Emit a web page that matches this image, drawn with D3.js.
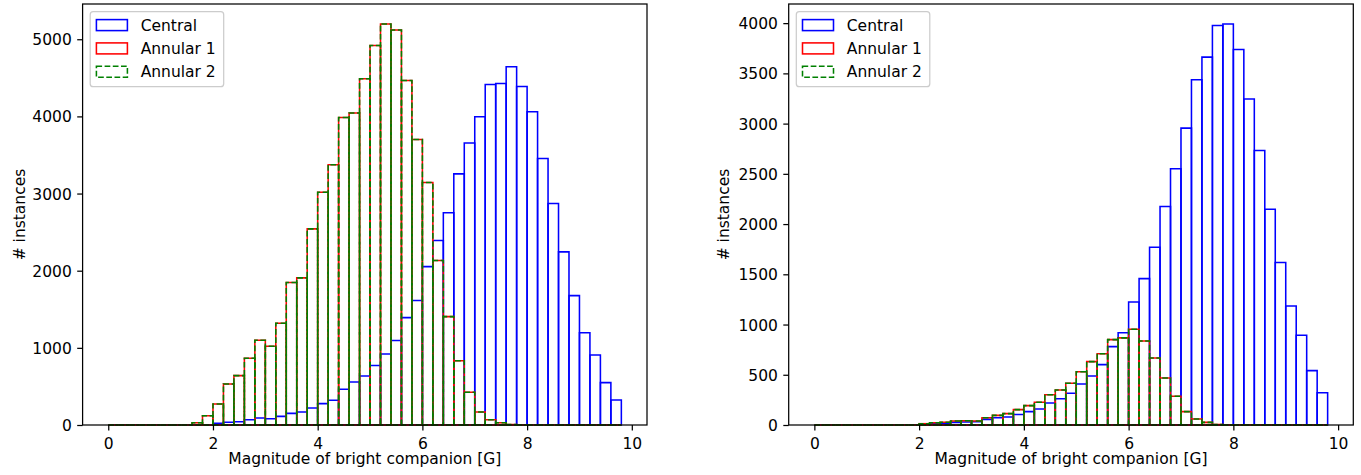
<!DOCTYPE html>
<html>
<head>
<meta charset="utf-8">
<script src="https://cdn.jsdelivr.net/npm/d3@7/dist/d3.min.js"></script>
<style>
  html, body { margin: 0; padding: 0; background: #fff; }
  svg { display: block; }
  text { font-family: "DejaVu Sans", sans-serif; }
</style>
</head>
<body>
<svg id="chart" width="1361" height="475"></svg>
<script>
// ---------- data ----------
const binWidth = 0.2;
const binStarts = [0.0,0.2,0.4,0.6,0.8,1.0,1.2,1.4,1.6,1.8,2.0,2.2,2.4,2.6,2.8,3.0,3.2,3.4,3.6,3.8,
  4.0,4.2,4.4,4.6,4.8,5.0,5.2,5.4,5.6,5.8,6.0,6.2,6.4,6.6,6.8,7.0,7.2,7.4,7.6,7.8,
  8.0,8.2,8.4,8.6,8.8,9.0,9.2,9.4,9.6];
const seriesNames = ["Central", "Annular 1", "Annular 2"];
const xTicks = [0, 2, 4, 6, 8, 10];
const leftYTicks = [0, 1000, 2000, 3000, 4000, 5000];
const rightYTicks = [0, 500, 1000, 1500, 2000, 2500, 3000, 3500, 4000];
const xLabel = "Magnitude of bright companion [G]";
const yLabel = "# instances";

const leftCentral = [0,0,0,0,0,0,0,0,0,0,
  22,35,43,69,91,82,112,151,169,220,
  277,320,463,558,636,770,921,1094,1392,1613,
  2053,2391,2750,3255,3654,3995,4414,4427,4643,4388,
  4060,3454,2870,2244,1677,1197,908,549,324];
const leftAnnular1 = [0,0,0,0,0,0,0,0,30,121,
  272,532,640,865,1098,1020,1319,1846,1907,2542,
  3018,3372,3986,4043,4488,4920,5197,5119,4466,3700,
  3143,2131,1405,834,424,169,69,30,6,0,
  0,0,0,0,0,0,0,0,0];
const leftAnnular2 = [0,0,0,0,0,0,0,0,30,121,
  272,532,640,865,1098,1020,1319,1846,1907,2542,
  3018,3372,3986,4043,4488,4920,5197,5119,4466,3700,
  3143,2131,1405,834,424,169,69,30,6,0,
  0,0,0,0,0,0,0,0,0];

const rightCentral = [0,0,0,0,0,0,0,0,0,0,
  5,12,18,26,30,33,56,73,80,105,
  133,159,219,262,316,408,488,601,780,919,
  1225,1457,1770,2174,2550,2955,3436,3662,3977,3991,
  3738,3244,2732,2148,1617,1185,893,541,322];
const rightAnnular1 = [0,0,0,0,0,0,0,0,0,0,
  13,23,28,40,43,40,73,96,113,153,
  193,226,302,349,415,531,631,710,850,867,
  953,837,667,468,286,133,60,26,5,0,
  0,0,0,0,0,0,0,0,0];
const rightAnnular2 = [0,0,0,0,0,0,0,0,0,0,
  13,23,28,40,43,40,73,96,113,153,
  193,226,302,349,415,531,631,710,850,867,
  953,837,667,468,286,133,60,26,5,0,
  0,0,0,0,0,0,0,0,0];

// ---------- styles ----------
const FS = 15.5;
const LW = 1.55;
const styles = [
  { color: "#0000ff", dash: null },
  { color: "#ff0000", dash: null },
  { color: "#008000", dash: "5.7,2.5" }
];

const svg = d3.select("#chart");

function drawPanel(cfg) {
  const { left, right, top, bottom, series, yTicks, yLabelX } = cfg;
  const allVals = series.flat();
  const xMin = binStarts[0], xMax = binStarts[binStarts.length - 1] + binWidth;
  const xm = (xMax - xMin) * 0.05;
  const x = d3.scaleLinear().domain([xMin - xm, xMax + xm]).range([left, right]);
  const y = d3.scaleLinear().domain([0, d3.max(allVals) * 1.05]).range([bottom, top]);

  const g = svg.append("g");

  // bars
  series.forEach((vals, si) => {
    const st = styles[si];
    const sg = g.append("g");
    vals.forEach((v, i) => {
      const x0 = x(binStarts[i]), x1 = x(binStarts[i] + binWidth);
      const y0 = y(0), y1 = y(v);
      const p = d3.path();
      p.moveTo(x0, y0); p.lineTo(x0, y1); p.lineTo(x1, y1); p.lineTo(x1, y0); p.closePath();
      const el = sg.append("path")
        .attr("d", p.toString())
        .attr("fill", "none")
        .attr("stroke", st.color)
        .attr("stroke-width", LW)
        .attr("stroke-linejoin", "miter");
      if (st.dash) el.attr("stroke-dasharray", st.dash);
    });
  });

  // axes
  const xAxis = d3.axisBottom(x).tickValues(xTicks).tickSize(5.4).tickSizeOuter(0).tickPadding(5.4)
    .tickFormat(d3.format("d"));
  const xg = g.append("g").attr("transform", `translate(0,${bottom})`).call(xAxis);
  xg.select(".domain").remove();
  xg.selectAll(".tick line").attr("stroke", "#000").attr("stroke-width", 1.24);
  xg.selectAll(".tick text").attr("y", 24).attr("dy", "0").attr("fill", "#000")
    .style("font-size", FS + "px").style("font-family", "DejaVu Sans");

  const yAxis = d3.axisLeft(y).tickValues(yTicks).tickSize(5.4).tickSizeOuter(0).tickPadding(5.4)
    .tickFormat(d3.format("d"));
  const yg = g.append("g").attr("transform", `translate(${left},0)`).call(yAxis);
  yg.select(".domain").remove();
  yg.selectAll(".tick line").attr("stroke", "#000").attr("stroke-width", 1.24);
  yg.selectAll(".tick text").attr("dy", "0.36em").attr("fill", "#000")
    .style("font-size", FS + "px").style("font-family", "DejaVu Sans");

  // frame
  g.append("rect").attr("x", left).attr("y", top)
    .attr("width", right - left).attr("height", bottom - top)
    .attr("fill", "none").attr("stroke", "#000").attr("stroke-width", 1.24);

  // labels
  g.append("text").attr("x", (left + right) / 2).attr("y", 463.5)
    .attr("text-anchor", "middle").style("font-size", FS + "px").attr("fill", "#000")
    .text(xLabel);
  g.append("text")
    .attr("transform", `translate(${yLabelX},${(top + bottom) / 2}) rotate(-90)`)
    .attr("text-anchor", "middle").style("font-size", FS + "px").attr("fill", "#000")
    .text(yLabel);

  // legend
  const lx = left + 7.6, ly = top + 7.7;
  const lg = g.append("g");
  lg.append("rect").attr("x", lx).attr("y", ly).attr("width", 133.5).attr("height", 75)
    .attr("rx", 3).attr("ry", 3)
    .attr("fill", "#fff").attr("fill-opacity", 0.8)
    .attr("stroke", "#cccccc").attr("stroke-width", 1.24);
  seriesNames.forEach((name, si) => {
    const cy = ly + 13.5 + si * 23.3;
    const st = styles[si];
    const r = lg.append("rect").attr("x", lx + 6.2).attr("y", cy - 5.6)
      .attr("width", 31).attr("height", 11)
      .attr("fill", "none").attr("stroke", st.color).attr("stroke-width", LW);
    if (st.dash) r.attr("stroke-dasharray", st.dash);
    lg.append("text").attr("x", lx + 50.5).attr("y", cy + 5.6)
      .style("font-size", FS + "px").attr("fill", "#000").text(name);
  });
}

drawPanel({ left: 82.6, right: 647, top: 4, bottom: 425,
  series: [leftCentral, leftAnnular1, leftAnnular2], yTicks: leftYTicks, yLabelX: 25 });
drawPanel({ left: 788.7, right: 1353.3, top: 4, bottom: 425,
  series: [rightCentral, rightAnnular1, rightAnnular2], yTicks: rightYTicks, yLabelX: 728.5 });
</script>
</body>
</html>
